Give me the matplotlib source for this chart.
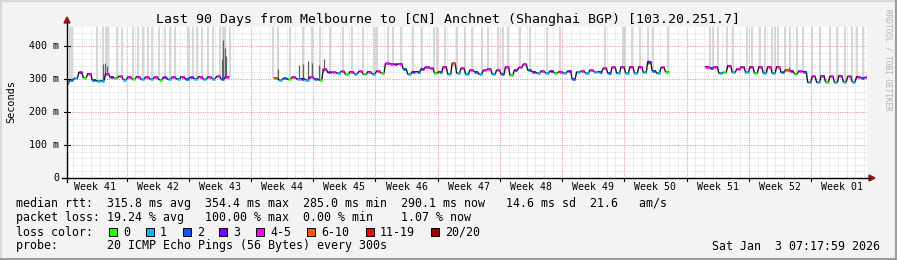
import numpy as np
import matplotlib
matplotlib.use("Agg")
import matplotlib.pyplot as plt
from matplotlib.patches import Rectangle, Polygon
from matplotlib.lines import Line2D

W, H = 897, 260
MONO = "DejaVu Sans Mono"

title = "Last 90 Days from Melbourne to [CN] Anchnet (Shanghai BGP) [103.20.251.7]"
week_labels = ["Week 41", "Week 42", "Week 43", "Week 44", "Week 45", "Week 46", "Week 47",
               "Week 48", "Week 49", "Week 50", "Week 51", "Week 52", "Week 01"]
ytick_vals = [0, 100, 200, 300, 400]
ytick_labels = ["0", "100 m", "200 m", "300 m", "400 m"]

# median rtt (ms), half-day samples, three contiguous segments (start day given)
seg1_start = 0.0
seg1_ms = [288, 298, 302, 320, 304, 316, 297, 294, 295, 316, 306, 303, 308, 298, 306, 300,
           307, 299, 306, 300, 306, 298, 305, 299, 306, 300, 307, 300, 305, 301, 307, 299,
           306, 301, 308, 300, 307]
seg1_loss = [1, 2, 1, 3, 0, 4, 2, 1, 1, 4, 3, 0, 4, 1, 4, 0, 4, 1, 4, 1, 4, 0, 3, 1, 4, 1,
             4, 2, 3, 1, 4, 1, 4, 1, 4, 2, 4]

seg2_start = 23.5
seg2_ms = [303, 297, 302, 299, 306, 300, 301, 298, 306, 300, 297, 330, 320, 321, 318, 323,
           314, 322, 316, 323, 314, 322, 316, 324, 318, 347, 346, 344, 346, 330, 315, 322,
           322, 330, 337, 333, 318, 322, 337, 315, 348, 318, 333, 315, 327, 322, 315, 327,
           330, 315, 327, 315, 337, 312, 327, 335, 345, 327, 322, 318, 324, 318, 324, 318,
           322, 318, 324, 300, 321, 324, 318, 327, 321, 322, 333, 318, 336, 318, 337, 318,
           337, 318, 337, 320, 352, 325, 318, 335, 322]
seg2_loss = [6, 1, 2, 0, 4, 1, 3, 1, 4, 2, 0, 4, 3, 4, 1, 4, 0, 4, 1, 4, 0, 4, 1, 4, 0, 4,
             4, 3, 4, 2, 1, 3, 2, 3, 4, 4, 0, 2, 4, 1, 6, 1, 4, 1, 4, 2, 1, 4, 4, 1, 4, 2,
             4, 0, 3, 4, 4, 2, 3, 1, 4, 1, 3, 0, 4, 1, 3, 2, 1, 4, 1, 4, 1, 2, 4, 2, 4, 1,
             4, 1, 4, 1, 4, 1, 3, 2, 1, 4, 0]

seg3_start = 72.0
seg3_ms = [337, 333, 337, 318, 320, 340, 320, 330, 337, 320, 337, 318, 337, 318, 337, 318,
           337, 320, 328, 324, 316, 324, 322, 290, 308, 290, 310, 292, 308, 290, 310, 292,
           308, 292, 307, 303, 305]
seg3_loss = [4, 3, 4, 1, 0, 4, 1, 4, 4, 1, 4, 0, 4, 1, 4, 1, 4, 2, 6, 3, 0, 4, 2, 1, 4, 1,
             4, 0, 4, 1, 4, 1, 4, 1, 4, 2, 4]

# light smoke spikes (day positions) reaching the top of the graph
spike_days = [0.34, 0.56, 3.37, 4.05, 4.39, 4.61, 5.62, 6.19, 7.42, 7.99, 8.55, 9.11, 9.56,
              10.35, 11.02, 11.59, 12.15, 13.61, 14.17, 14.62, 15.19, 15.86, 16.42, 17.21,
              17.55, 17.77, 18.34,
              23.17, 23.74, 25.09, 26.55, 27.56, 28.46, 29.59, 31.05, 32.06, 33.30, 34.54,
              34.87, 36.11, 36.67, 37.57, 38.92, 39.94, 41.29, 41.62, 42.52, 43.87, 44.77,
              45.56, 46.69, 47.36, 48.49, 49.05, 49.61, 50.96, 52.09, 54.00, 55.46, 60.52,
              62.55, 62.77, 63.56, 64.46, 65.36, 65.92, 67.61,
              72.34, 72.67, 73.24, 74.25, 74.92, 76.50, 77.06, 77.96, 78.52, 79.31, 79.65,
              79.99, 80.77, 81.36, 82.12, 82.80, 83.81, 84.71, 85.84, 86.62, 87.52, 88.31,
              88.87, 89.55]
# darker smoke near the median
dark_days = [4.1, 4.3, 4.5, 17.4, 17.6, 17.8, 17.9, 23.7, 26.1, 26.6, 27.1, 27.6, 28.3,
             28.9, 39.8, 43.4, 49.6, 65.4, 81.2]
dark_tops = [345, 350, 340, 360, 418, 395, 370, 330, 342, 345, 355, 350, 342, 360, 337,
             345, 340, 358, 335]

loss_colors = {0: "#26ff00", 1: "#00b8ff", 2: "#0059ff", 3: "#7f00ff", 4: "#ff00ff",
               6: "#ff5500", 11: "#ff0000", 20: "#a00000"}
legend_items = [("0", 0), ("1", 1), ("2", 2), ("3", 3), ("4-5", 4), ("6-10", 6),
                ("11-19", 11), ("20/20", 20)]

row1 = "median rtt:  315.8 ms avg  354.4 ms max  285.0 ms min  290.1 ms now   14.6 ms sd  21.6   am/s"
row2 = "packet loss: 19.24 % avg   100.00 % max  0.00 % min    1.07 % now"
row3 = "loss color:"
row4 = "probe:       20 ICMP Echo Pings (56 Bytes) every 300s"
datestr = "Sat Jan  3 07:17:59 2026"

# ---------------------------------------------------------------
fig = plt.figure(figsize=(W / 100, H / 100), dpi=100)
fig.patch.set_facecolor("#f3f3f3")

def fx(x):
    return x / W

def fy(y):
    return 1 - y / H

X0, X1, Y0, Y1 = 67, 867, 178, 27
YMAX = (Y0 - Y1) / 0.33
ax = fig.add_axes([fx(X0), fy(Y0), (X1 - X0) / W, (Y0 - Y1) / H])
ax.set_xlim(0, 90)
ax.set_ylim(0, YMAX)
ax.set_facecolor("white")
for s in ax.spines.values():
    s.set_visible(False)
ax.set_xticks([])
ax.set_yticks([])

dot = (0, (1, 1.4))
# minor grid
for v in range(20, 460, 20):
    if v % 100:
        ax.axhline(v, color="#cfcfcf", lw=0.6, ls=dot, zorder=1)
first_midnight = 0.696
week_start = 6.696
for k in range(90):
    d = first_midnight + k
    if d < 90 and abs(((d - week_start) / 7) - round((d - week_start) / 7)) > 1e-3:
        ax.axvline(d, color="#cfcfcf", lw=0.6, ls=dot, zorder=1)
# major grid
for v in ytick_vals[1:]:
    ax.axhline(v, color="#f08a8a", lw=0.7, ls=dot, zorder=1.5)
for k in range(12):
    ax.axvline(week_start + 7 * k, color="#f08a8a", lw=0.7, ls=dot, zorder=1.5)

segments = [(seg1_start, seg1_ms, seg1_loss), (seg2_start, seg2_ms, seg2_loss),
            (seg3_start, seg3_ms, seg3_loss)]
all_t, all_v = [], []
for st, ms, ls in segments:
    t = st + 0.5 * np.arange(len(ms))
    all_t.append(t)
    all_v.append(np.array(ms, float))
cat_t = np.concatenate(all_t)
cat_v = np.concatenate(all_v)

# light smoke
base = np.interp(spike_days, cat_t, cat_v)
ax.vlines(spike_days, base, YMAX, color="#cfcfcf", lw=1.2, zorder=2)
# dark smoke
dbase = np.interp(dark_days, cat_t, cat_v)
ax.vlines(dark_days, dbase, dark_tops, color="#606060", lw=0.9, zorder=2.5)

# median line: coloured plateaus around each sample, dark slopes between them
HW = 0.17
for (st, ms, ls), t, v in zip(segments, all_t, all_v):
    xs, ys = [], []
    for i in range(len(v)):
        xs += [t[i] - HW, t[i] + HW]
        ys += [v[i], v[i]]
    ax.plot(xs, ys, color="#1a1a1a", lw=1.0, zorder=3)
    for i in range(len(v)):
        ax.plot([t[i] - HW, t[i] + HW], [v[i], v[i]], color=loss_colors[ls[i]],
                lw=1.8, zorder=4, solid_capstyle="butt")

# axes lines and arrows (pixel coordinates on figure)
fig.add_artist(Line2D([fx(62), fx(870)], [fy(Y0), fy(Y0)], color="black", lw=1.0))
fig.add_artist(Line2D([fx(X0), fx(X0)], [fy(182), fy(22)], color="black", lw=1.0))
fig.add_artist(Polygon([[fx(64), fy(23)], [fx(70), fy(23)], [fx(67), fy(17)]],
                       closed=True, color="#a01010"))
fig.add_artist(Polygon([[fx(869), fy(175)], [fx(869), fy(181)], [fx(875), fy(178)]],
                       closed=True, color="#a01010"))
# week ticks
for k in range(12):
    xp = X0 + (week_start + 7 * k) / 90 * (X1 - X0)
    fig.add_artist(Line2D([fx(xp), fx(xp)], [fy(Y0), fy(Y0 + 3)], color="black", lw=0.8))
for v in ytick_vals[1:]:
    yp = Y0 - v * 0.33
    fig.add_artist(Line2D([fx(64), fx(70)], [fy(yp), fy(yp)], color="black", lw=0.8))

# labels
for v, lab in zip(ytick_vals, ytick_labels):
    yp = Y0 - v * 0.33
    fig.text(fx(59), fy(yp), lab, ha="right", va="center", family=MONO, fontsize=7.2)
for k, lab in enumerate(week_labels):
    d = week_start - 7 + 3.5 + 7 * k
    xp = X0 + d / 90 * (X1 - X0)
    fig.text(fx(xp), fy(187), lab, ha="center", va="center", family=MONO, fontsize=7.1)

fig.text(fx(448), fy(19), title, ha="center", va="center", family=MONO, fontsize=9.5)
fig.text(fx(11), fy(102), "Seconds", ha="center", va="center", rotation=90,
         family=MONO, fontsize=7.4)
fig.text(fx(888), fy(60), "RRDTOOL / TOBI OETIKER", ha="center", va="center",
         rotation=270, family=MONO, fontsize=5.6, color="#b4b4b4")

LFS = 8.4
fig.text(fx(16), fy(204), row1, ha="left", va="center", family=MONO, fontsize=LFS)
fig.text(fx(16), fy(218), row2, ha="left", va="center", family=MONO, fontsize=LFS)
fig.text(fx(16), fy(232), row3, ha="left", va="center", family=MONO, fontsize=LFS)
fig.text(fx(16), fy(246), row4, ha="left", va="center", family=MONO, fontsize=LFS)
fig.text(fx(880), fy(246), datestr, ha="right", va="center", family=MONO, fontsize=LFS)

box_x = [109, 146, 183, 219, 256, 307, 366, 431]
for bx, (lab, code) in zip(box_x, legend_items):
    fig.add_artist(Rectangle((fx(bx), fy(236)), 8 / W, 8 / H, facecolor=loss_colors[code],
                             edgecolor="black", lw=0.7))
    fig.text(fx(bx + 14), fy(232), lab, ha="left", va="center", family=MONO, fontsize=LFS)

# frame
fig.add_artist(Line2D([0, 1], [fy(0.5), fy(0.5)], color="#d8d8d8", lw=1.5))
fig.add_artist(Line2D([fx(0.5), fx(0.5)], [0, 1], color="#d8d8d8", lw=1.5))
fig.add_artist(Line2D([0, 1], [fy(258.8), fy(258.8)], color="#9c9c9c", lw=2.2))
fig.add_artist(Line2D([fx(895.8), fx(895.8)], [0, 1], color="#9c9c9c", lw=2.2))

fig.savefig("out.png", dpi=100, facecolor=fig.get_facecolor())
